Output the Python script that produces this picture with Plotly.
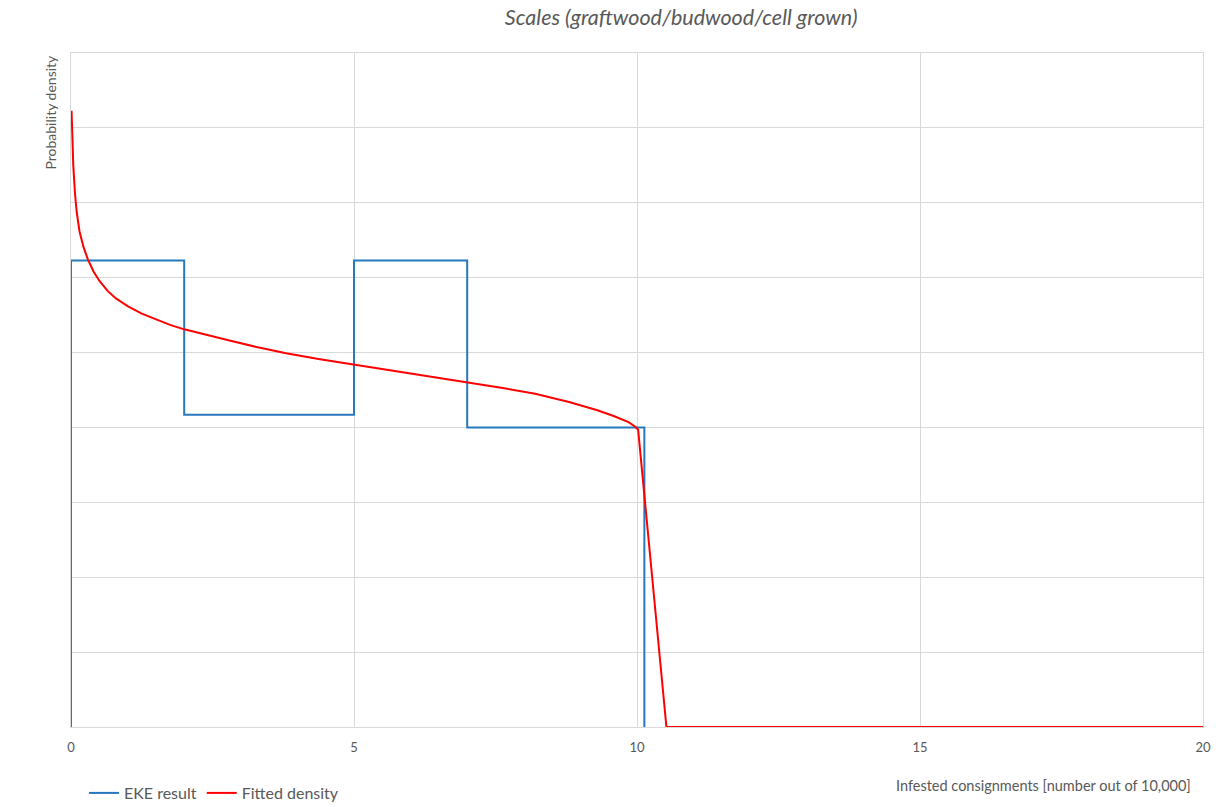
import plotly.graph_objects as go

# EKE result (step density)
eke_edges = [0, 2, 5, 7, 10.13]
eke_density = [6.23, 4.17, 6.23, 4.0]

# Fitted density
fit_x = [0.01, 0.02, 0.04, 0.07, 0.1, 0.15, 0.22, 0.3, 0.4, 0.5, 0.65, 0.8, 1.0,
         1.25, 1.5, 1.75, 2.0, 2.4, 2.8, 3.3, 3.8, 4.4, 5.0, 5.8, 6.4, 7.0, 7.6,
         8.2, 8.8, 9.3, 9.6, 9.85, 9.97, 10.02, 10.52, 20]
fit_y = [8.23, 7.95, 7.50, 7.13, 6.88, 6.62, 6.41, 6.24, 6.08, 5.96, 5.82, 5.72, 5.62,
         5.52, 5.44, 5.37, 5.31, 5.23, 5.16, 5.07, 4.99, 4.91, 4.84, 4.74, 4.68, 4.61, 4.53,
         4.45, 4.34, 4.23, 4.15, 4.07, 4.01, 3.97, 0, 0]

x_ticks = [0, 5, 10, 15, 20]

step_x = [eke_edges[0]] + eke_edges
step_y = [0] + eke_density + [0]

FONT = "Lato"
GRAY = "#595959"
GRID = "#d9d9d9"

fig = go.Figure()
fig.add_trace(go.Scatter(x=step_x, y=step_y, mode="lines", line_shape="hv",
                         name="EKE result", line=dict(color="#2878BE", width=2)))
fig.add_trace(go.Scatter(x=fit_x, y=fit_y, mode="lines", name="Fitted density",
                         line=dict(color="#FF0000", width=2)))

fig.update_layout(
    width=1223, height=807,
    margin=dict(l=71, r=18, t=53, b=80),
    paper_bgcolor="white", plot_bgcolor="white",
    font=dict(family=FONT, color=GRAY, size=13),
    title=dict(text="<i>Scales (graftwood/budwood/cell grown)</i>",
               x=0.557, xanchor="center", y=1 - 17 / 807, yanchor="middle",
               font=dict(family=FONT, size=21.5, color=GRAY)),
    xaxis=dict(range=[0, 20], tickvals=x_ticks, showgrid=True, gridcolor=GRID,
               zeroline=False, showline=True, linecolor=GRID, mirror=True,
               ticks="", ticklabelstandoff=8, tickfont=dict(size=13, color=GRAY)),
    yaxis=dict(range=[0, 9], dtick=1, showgrid=True, gridcolor=GRID,
               zeroline=False, showline=True, linecolor=GRID, mirror=True,
               showticklabels=False, ticks=""),
    showlegend=True,
    legend=dict(orientation="h", xref="container", yref="container",
                x=84 / 1223, y=1 - 793 / 807, xanchor="left", yanchor="middle",
                font=dict(size=16, color=GRAY), itemwidth=30,
                bgcolor="rgba(0,0,0,0)"),
    annotations=[
        dict(text="Infested consignments [number out of 10,000]",
             xref="paper", yref="paper", x=(1195 - 71) / (1205 - 71),
             y=-(785 - 727) / (727 - 53), xanchor="right", yanchor="middle",
             showarrow=False, font=dict(size=14.5, color=GRAY)),
        dict(text="Probability density", textangle=-90,
             xref="paper", yref="paper", x=-(71 - 50) / (1205 - 71), y=1.0,
             xanchor="center", yanchor="top", showarrow=False,
             font=dict(size=14, color=GRAY)),
    ],
)

fig.write_html("out.html", config={"displayModeBar": False},
               post_script="document.body.style.margin='0px';")
